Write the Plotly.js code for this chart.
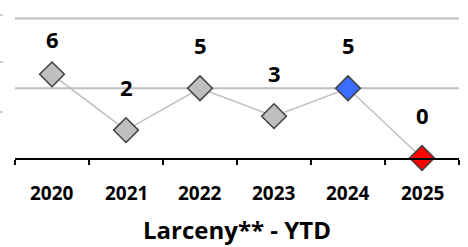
<!DOCTYPE html>
<html>
<head>
<meta charset="utf-8">
<script src="https://cdn.plot.ly/plotly-3.0.1.min.js"></script>
<style>html,body{margin:0;padding:0;background:#fff;}#chart{width:468px;height:247px;}</style>
</head>
<body>
<div id="chart"></div>
<script>
// Data
var years = ["2020", "2021", "2022", "2023", "2024", "2025"];
var counts = [6, 2, 5, 3, 5, 0];
var gridValues = [5, 10];
var chartTitle = "Larceny** - YTD";

// Styling
var markerColors = ["#BFBFBF", "#BFBFBF", "#BFBFBF", "#BFBFBF", "#3C6CFF", "#FF0000"];
var labelShift = [35, 43, 43, 43, 43, 43];
var FONT = "Open Sans, DejaVu Sans, sans-serif";

var idx = years.map(function (_, i) { return i; });
var boundaries = years.concat([""]).map(function (_, i) { return i - 0.5; });

var trace = {
  type: "scatter",
  mode: "lines+markers",
  x: idx,
  y: counts,
  cliponaxis: false,
  line: {color: "#BFBFBF", width: 1.5},
  marker: {
    symbol: "diamond",
    size: 19,
    color: markerColors,
    line: {color: "#404040", width: 1.5}
  },
  hoverinfo: "skip"
};

var annotations = years.map(function (yr, i) {
  return {
    x: i, y: counts[i], xref: "x", yref: "y",
    text: "<b>" + counts[i] + "</b>",
    showarrow: false,
    yshift: labelShift[i],
    yanchor: "middle",
    font: {family: FONT, size: 22, color: "#000"}
  };
}).concat(years.map(function (yr, i) {
  return {
    x: i, y: 0, xref: "x", yref: "paper",
    text: "<b>" + yr + "</b>",
    showarrow: false,
    yshift: -35, yanchor: "middle",
    font: {family: FONT, size: 19, color: "#000"}
  };
}));

var shapes = gridValues.map(function (v) {
  return {type: "line", xref: "paper", yref: "y", x0: 0, x1: 1, y0: v, y1: v,
    layer: "below", line: {color: "#BFBFBF", width: 2}};
}).concat([15, 62, 112].map(function (py) {
  return {type: "line", xref: "paper", yref: "paper",
    x0: -15/444, x1: -12/444, y0: (158 - py)/146, y1: (158 - py)/146,
    line: {color: "#BFBFBF", width: 1.5}};
}));

var layout = {
  width: 468, height: 247,
  margin: {l: 15, r: 9, t: 12, b: 89, pad: 0},
  paper_bgcolor: "#fff", plot_bgcolor: "#fff",
  showlegend: false,
  title: {
    text: "<b>" + chartTitle + "</b>",
    font: {family: FONT, size: 24, color: "#000"},
    xref: "paper", x: 0.5, xanchor: "center",
    yref: "container", y: 1 - 231/247, yanchor: "middle"
  },
  xaxis: {
    range: [-0.5, 5.5],
    tickmode: "array", tickvals: boundaries, ticktext: boundaries.map(function () { return ""; }),
    ticks: "outside", ticklen: 5, tickwidth: 2, tickcolor: "#000",
    showline: true, linecolor: "#000", linewidth: 2,
    showgrid: false, zeroline: false,
    fixedrange: true
  },
  yaxis: {
    range: [0, 10.47],
    showticklabels: false, ticks: "",
    showgrid: false,
    zeroline: false, showline: false, fixedrange: true
  },
  annotations: annotations,
  shapes: shapes
};

Plotly.newPlot("chart", [trace], layout, {displayModeBar: false, staticPlot: true});
</script>
</body>
</html>
